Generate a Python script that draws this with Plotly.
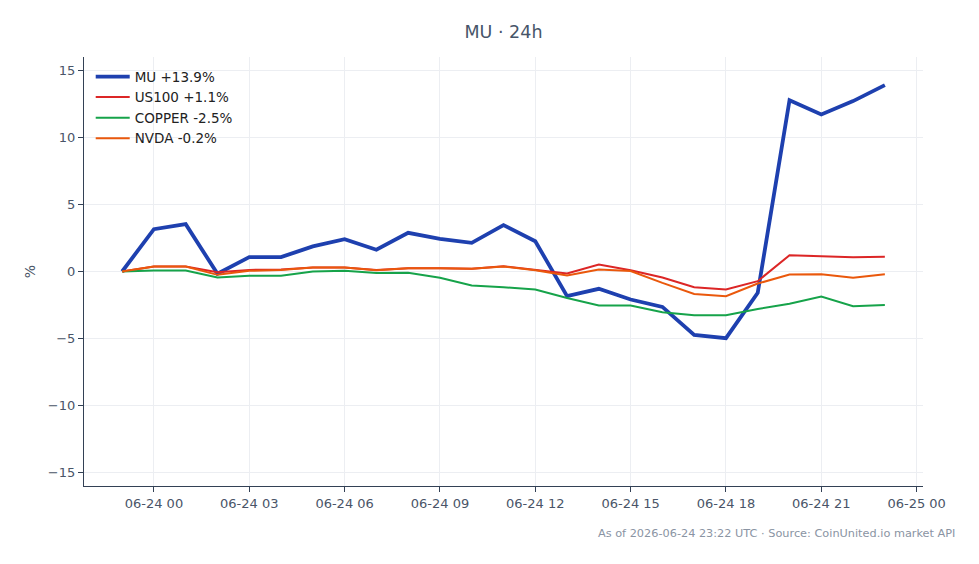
import plotly.graph_objects as go
import pandas as pd

times = pd.date_range("2026-06-23 23:00", "2026-06-24 23:00", freq="h")

mu = [0.0, 3.16, 3.53, -0.17, 1.07, 1.07, 1.87, 2.41, 1.62, 2.89, 2.44, 2.14, 3.46,
      2.26, -1.84, -1.29, -2.09, -2.64, -4.73, -4.97, -1.59, 12.78, 11.72, 12.71, 13.9]
us100 = [0.0, 0.37, 0.37, -0.05, 0.12, 0.15, 0.3, 0.3, 0.12, 0.25, 0.25, 0.2, 0.4,
         0.1, -0.15, 0.52, 0.1, -0.45, -1.17, -1.34, -0.72, 1.22, 1.14, 1.07, 1.1]
copper = [0.0, 0.07, 0.07, -0.45, -0.32, -0.32, 0.0, 0.05, -0.12, -0.1, -0.47, -1.04, -1.17,
          -1.34, -1.97, -2.54, -2.54, -3.04, -3.26, -3.26, -2.79, -2.41, -1.87, -2.59, -2.5]
nvda = [0.0, 0.37, 0.37, -0.25, 0.05, 0.12, 0.3, 0.3, 0.1, 0.25, 0.25, 0.2, 0.38,
        0.1, -0.3, 0.15, 0.03, -0.85, -1.67, -1.84, -0.9, -0.22, -0.2, -0.47, -0.2]

series = [
    ("MU +13.9%", mu, "#1e40af", 3.8),
    ("US100 +1.1%", us100, "#dc2626", 2),
    ("COPPER -2.5%", copper, "#16a34a", 2),
    ("NVDA -0.2%", nvda, "#ea580c", 2),
]

fig = go.Figure()
for name, vals, color, w in series:
    fig.add_trace(go.Scatter(x=times, y=vals, mode="lines", name=name,
                             line=dict(color=color, width=w)))

fig.add_hline(y=0, line=dict(color="#94a3b8", width=1, dash="dash"), layer="below")

axis_font = dict(family="DejaVu Sans", size=13, color="#4a5568")
fig.update_layout(
    width=979, height=564,
    margin=dict(l=84, r=56, t=57, b=78),
    paper_bgcolor="white", plot_bgcolor="white",
    font=dict(family="DejaVu Sans", size=13, color="#4a5568"),
    title=dict(text="MU · 24h", x=0.5, xref="paper", y=0.943, yref="container",
               xanchor="center", yanchor="middle",
               font=dict(family="DejaVu Sans", size=17.5, color="#475569")),
    showlegend=True,
    legend=dict(x=0.008, y=0.99, xanchor="left", yanchor="top",
                bgcolor="rgba(255,255,255,0)", font=dict(size=13.5, color="#222222"),
                itemwidth=34),
    xaxis=dict(
        range=[pd.Timestamp("2026-06-23 21:48"), pd.Timestamp("2026-06-25 00:12")],
        dtick=3 * 3600 * 1000, tick0="2026-06-24 00:00", tickformat="%m-%d %H",
        showgrid=True, gridcolor="#eceef2", gridwidth=1,
        showline=True, linecolor="#334155", linewidth=1.2,
        ticks="outside", ticklen=5, tickcolor="#334155",
        tickfont=axis_font, zeroline=False,
    ),
    yaxis=dict(
        range=[-16, 16], dtick=5, tick0=0,
        showgrid=True, gridcolor="#eceef2", gridwidth=1,
        showline=True, linecolor="#334155", linewidth=1.2,
        ticks="outside", ticklen=5, tickcolor="#334155",
        tickfont=axis_font, zeroline=False,
        title=dict(text="%", font=dict(size=14, color="#4a5568"), standoff=8),
    ),
)

fig.add_annotation(text="As of 2026-06-24 23:22 UTC · Source: CoinUnited.io market API",
                   xref="paper", yref="paper", x=1.04, y=-0.11,
                   xanchor="right", yanchor="middle", showarrow=False,
                   font=dict(family="DejaVu Sans", size=11.3, color="#8a94a3"))

fig.write_html("out.html")
